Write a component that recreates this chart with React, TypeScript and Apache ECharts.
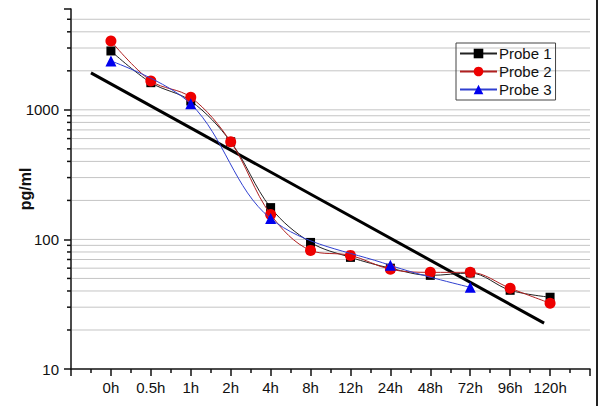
import React, { useEffect, useRef } from "react";
import * as echarts from "echarts";

const categories = ["0h", "0.5h", "1h", "2h", "4h", "8h", "12h", "24h", "48h", "72h", "96h", "120h"];
const probe1 = [2846, 1620, 1170, 567, 176, 94.8, 72.7, 60, 52.8, 55, 40.5, 35.8];
const probe2 = [3396, 1671, 1250, 567, 156, 82.3, 75.3, 58.8, 55.7, 55.7, 42, 32.2];
const probe3: (number | null)[] = [2383, null, 1112, null, 145, null, null, 63.1, null, 42.7, null, null];
const trendX = [-0.5, 10.85];
const trendY = [1930, 22.6];
const yMajor = [10, 100, 1000];
const yMinor = [20, 30, 40, 50, 60, 70, 80, 90, 200, 300, 400, 500, 600, 700, 800, 900, 2000, 3000, 4000, 5000];

const toPairs = (arr: (number | null)[]) =>
  arr.map((v, i) => (v == null ? null : [i, v])).filter((p) => p !== null) as number[][];

export default function App() {
  const ref = useRef<HTMLDivElement>(null);
  useEffect(() => {
    document.body.style.margin = "0";
    const chart = echarts.init(ref.current!, null, { renderer: "svg" });
    const font = "'Liberation Sans', Arial, sans-serif";
    const gridData = [...yMajor.slice(1), ...yMinor].map((v) => [-1, v, yMinor.includes(v) ? 1 : 0]);
    chart.setOption({
      animation: false,
      backgroundColor: "#fff",
      textStyle: { fontFamily: font },
      grid: { left: 71, right: 10, top: 9, bottom: 37, containLabel: false, outerBoundsMode: "none" },
      legend: {
        data: ["Probe 1", "Probe 2", "Probe 3"],
        orient: "vertical",
        left: 456,
        top: 43,
        padding: [3, 4, 3, 3],
        itemGap: 3,
        itemWidth: 37,
        itemHeight: 12,
        borderColor: "#444",
        borderWidth: 1,
        textStyle: { fontSize: 15, color: "#111", fontFamily: font, padding: [0, 0, 0, -3] },
      },
      xAxis: {
        type: "value",
        min: -1,
        max: 12,
        interval: 1,
        axisLine: { onZero: false, lineStyle: { color: "#111", width: 1.5 } },
        axisTick: { show: true, inside: false, length: 7, lineStyle: { color: "#111", width: 1.5 } },
        minorTick: { show: true, splitNumber: 2, length: 4, lineStyle: { color: "#111", width: 1.5 } },
        splitLine: { show: false },
        axisLabel: {
          fontSize: 15,
          color: "#111",
          margin: 11,
          fontFamily: font,
          showMinLabel: true,
          showMaxLabel: true,
          formatter: (v: number) => categories[Math.round(v)] ?? "",
        },
      },
      yAxis: {
        type: "log",
        logBase: 10,
        min: 10,
        max: 6000,
        name: "pg/ml",
        nameLocation: "middle",
        nameGap: 38,
        nameMoveOverlap: false,
        nameTextStyle: { fontSize: 16, fontWeight: "bold", color: "#111", fontFamily: font },
        axisLine: { show: true, onZero: false, lineStyle: { color: "#111", width: 1.5 } },
        axisTick: { show: true, inside: false, length: 7, lineStyle: { color: "#111", width: 1.5 } },
        splitLine: { show: false },
        axisLabel: {
          fontSize: 15,
          color: "#111",
          margin: 12,
          fontFamily: font,
          formatter: (v: number) => {
            const r = Math.round(v);
            return yMajor.includes(r) ? String(r) : "";
          },
        },
      },
      graphic: [
        { type: "rect", shape: { x: 596, y: 0, width: 2, height: 406 }, style: { fill: "#222" } },
      ],
      series: [
        {
          type: "custom",
          name: "grid",
          silent: true,
          clip: false,
          z: 0,
          data: gridData,
          renderItem: (params: any, api: any) => {
            const v = api.value(1);
            const minor = api.value(2);
            const p0 = api.coord([-1, v]);
            const p1 = api.coord([12, v]);
            const children: any[] = [
              {
                type: "line",
                shape: { x1: p0[0] + 1, y1: p0[1], x2: p1[0], y2: p1[1] },
                style: { stroke: "#c4c4c4", lineWidth: 1 },
              },
            ];
            if (minor) {
              children.push({
                type: "line",
                shape: { x1: p0[0] - 4, y1: p0[1], x2: p0[0], y2: p0[1] },
                style: { stroke: "#111", lineWidth: 1.5 },
              });
            }
            return { type: "group", children };
          },
        },
        {
          type: "line",
          name: "trend",
          data: [[trendX[0], trendY[0]], [trendX[1], trendY[1]]],
          symbol: "none",
          lineStyle: { color: "#000", width: 3 },
          z: 3,
          silent: true,
        },
        {
          type: "line",
          name: "Probe 1",
          data: toPairs(probe1),
          smooth: 0.35,
          symbol: "rect",
          symbolSize: 9,
          itemStyle: { color: "#000" },
          lineStyle: { color: "#222", width: 1 },
          z: 4,
        },
        {
          type: "line",
          name: "Probe 2",
          data: toPairs(probe2),
          smooth: 0.35,
          symbol: "circle",
          symbolSize: 11,
          itemStyle: { color: "#ee0000" },
          lineStyle: { color: "#b02020", width: 1 },
          z: 5,
        },
        {
          type: "line",
          name: "Probe 3",
          data: toPairs(probe3),
          smooth: 0.35,
          symbol: "triangle",
          symbolSize: 11,
          itemStyle: { color: "#0000ee" },
          lineStyle: { color: "#3040d0", width: 1 },
          z: 6,
        },
      ],
    });
    return () => chart.dispose();
  }, []);
  return (
    <div
      ref={ref}
      style={{ position: "fixed", left: 0, top: 0, width: 600, height: 406, background: "#fff" }}
    />
  );
}
